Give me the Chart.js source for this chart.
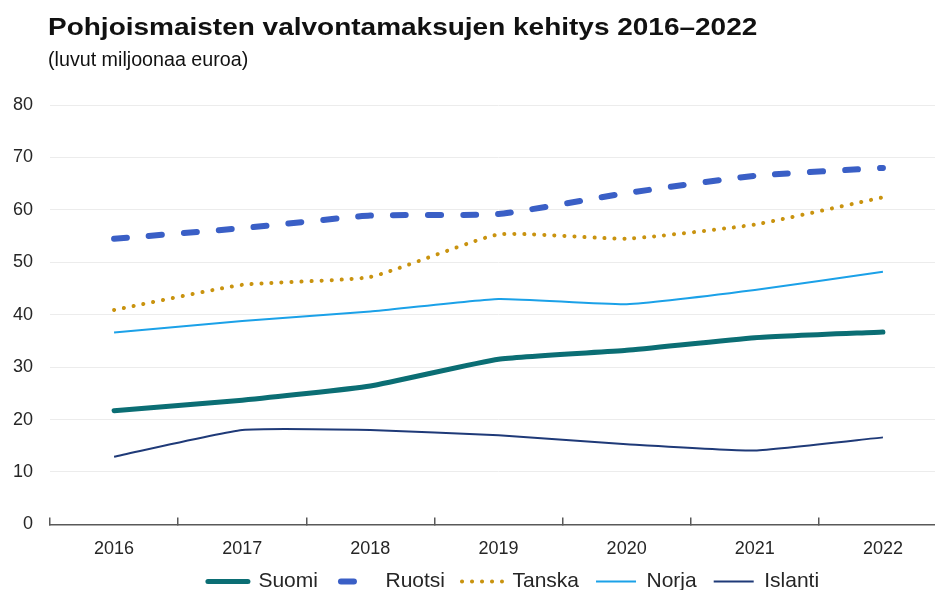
<!DOCTYPE html>
<html>
<head>
<meta charset="utf-8">
<script src="https://cdn.jsdelivr.net/npm/chart.js@4.4.1/dist/chart.umd.min.js"></script>
<style>
  html, body { margin: 0; padding: 0; background: #fff; overflow: hidden; }
  #wrap { position: relative; width: 935px; height: 590px; overflow: hidden; font-family: "Liberation Sans", Arial, sans-serif; }
  #title { position: absolute; left: 48px; top: 15px; font-size: 24px; line-height: 1; font-weight: bold; color: #111; white-space: nowrap; transform: scaleX(1.166); transform-origin: 0 0; }
  #subtitle { position: absolute; left: 48px; top: 50px; font-size: 19.7px; line-height: 1; color: #111; white-space: nowrap; }
  #box { position: absolute; left: 0; top: 0; width: 947px; height: 611px; }
</style>
</head>
<body>
<div id="wrap">
  <div id="box"><canvas id="chart"></canvas></div>
  <div id="title">Pohjoismaisten valvontamaksujen kehitys 2016–2022</div>
  <div id="subtitle">(luvut miljoonaa euroa)</div>
</div>
<script>
const years = ["2016", "2017", "2018", "2019", "2020", "2021", "2022"];

const suomi = [21.7, 23.7, 26.4, 31.5, 33.2, 35.6, 36.7];
const ruotsi = [54.5, 56.5, 58.9, 59.2, 63.2, 66.5, 68.0];
const tanska = [40.9, 45.7, 47.2, 55.3, 54.5, 57.2, 62.4];
const norja = [36.6, 38.8, 40.6, 43.0, 42.0, 44.7, 48.2];
const islanti = [12.9, 18.0, 18.0, 17.0, 15.3, 14.1, 16.6];

const yMin = 0;
const yMax = 80;
const yStep = 10;

const FONT = "'Liberation Sans', Arial, sans-serif";

// siirtää selitettä hieman oikealle ja ylös, kuten alkuperäisessä kuvassa
const legendShift = {
  id: "legendShift",
  afterLayout(chart) {
    chart.legend.left += 40;
    chart.legend.right += 40;
    chart.legend.top -= 9;
    chart.legend.bottom -= 9;
  },
};

const ctx = document.getElementById("chart").getContext("2d");
new Chart(ctx, {
  type: "line",
  data: {
    labels: years,
    datasets: [
      {
        label: "Suomi",
        data: suomi,
        borderColor: "#0b6e74",
        borderWidth: 5,
        borderCapStyle: "round",
      },
      {
        label: "Ruotsi",
        data: ruotsi,
        borderColor: "#3a5fc6",
        borderWidth: 6,
        borderDash: [13, 22],
        borderCapStyle: "round",
      },
      {
        label: "Tanska",
        data: tanska,
        borderColor: "#c9930f",
        borderWidth: 4,
        borderDash: [0.1, 9.9],
        borderCapStyle: "round",
      },
      {
        label: "Norja",
        data: norja,
        borderColor: "#1ba1e8",
        borderWidth: 2,
      },
      {
        label: "Islanti",
        data: islanti,
        borderColor: "#1f3a78",
        borderWidth: 2,
      },
    ],
  },
  options: {
    responsive: true,
    maintainAspectRatio: false,
    animation: false,
    elements: {
      point: { radius: 0, hoverRadius: 0 },
      line: { tension: 0.15, fill: false },
    },
    layout: {
      padding: { top: 105, left: 0, right: 0, bottom: 0 },
    },
    scales: {
      x: {
        offset: true,
        afterFit(scale) {
          scale.height -= 18;
        },
        grid: {
          offset: true,
          drawOnChartArea: false,
          drawTicks: true,
          tickLength: -7,
          color: "#595959",
          lineWidth: 1.5,
        },
        border: { display: true, color: "#595959", width: 1.5 },
        ticks: {
          color: "#262626",
          font: { family: FONT, size: 18 },
          padding: 21,
          maxRotation: 0,
        },
      },
      y: {
        min: yMin,
        max: yMax,
        afterFit(scale) {
          scale.width = 50;
        },
        grid: { color: "#ececec", lineWidth: 1, drawTicks: false },
        border: { display: false },
        ticks: {
          stepSize: yStep,
          color: "#262626",
          font: { family: FONT, size: 18 },
          padding: 17,
        },
      },
    },
    plugins: {
      title: { display: false },
      tooltip: { enabled: false },
      legend: {
        position: "bottom",
        labels: {
          usePointStyle: true,
          pointStyle: "line",
          pointStyleWidth: 40,
          color: "#262626",
          font: { family: FONT, size: 21 },
          padding: 17,
          generateLabels(chart) {
            const items = Chart.defaults.plugins.legend.labels.generateLabels(chart);
            items.forEach((item) => {
              const ds = chart.data.datasets[item.datasetIndex];
              item.lineDash = ds.borderDash || [];
              item.lineDashOffset = ds.label === "Ruotsi" ? -6 : 0;
              item.lineCap = ds.borderCapStyle || "butt";
              item.lineWidth = ds.borderWidth;
              item.strokeStyle = ds.borderColor;
            });
            return items;
          },
        },
      },
    },
  },
  plugins: [legendShift],
});
</script>
</body>
</html>
